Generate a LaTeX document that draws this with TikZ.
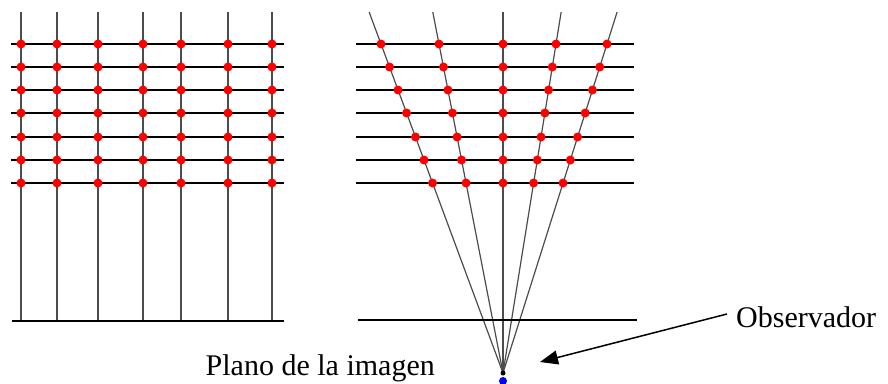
\documentclass[tikz,border=0pt]{standalone}
\usepackage{fontspec}
\setmainfont{Liberation Serif}
\usetikzlibrary{arrows.meta}
\begin{document}
\begin{tikzpicture}[x=1pt,y=-1pt,
  hline/.style={line width=2.4pt,black},
  vline/.style={line width=1.2pt,black!70},
  reddot/.style={circle,fill=red,inner sep=0pt,minimum size=9pt},
  lbl/.style={font=\fontsize{30}{36}\selectfont,inner sep=0pt},
  pointer/.style={line width=1.5pt,-{Triangle[length=18pt,width=14pt]}}]
\useasboundingbox (0,0) rectangle (888,383);
% ---------- left grid ----------
\foreach \x in {21,57,98,143,181,228,272}
  \draw[vline] (\x,12) -- (\x,321);
\foreach \y in {44,67,90,113,137,160,183}
  \draw[hline] (11,\y) -- (284,\y);
\draw[hline] (12,321) -- (284,321);
\foreach \x [count=\i] in {21,57,98,143,181,228,272}
  \foreach \y [count=\j] in {44,67,90,113,137,160,183}
    \node[reddot] (L-\i-\j) at (\x,\y) {};
% ---------- right (perspective) ----------
\coordinate (apex) at (503,373);
\foreach \x [count=\i] in {381,439,503,556,607}{
  \pgfmathsetmacro{\xt}{503+(\x-503)*(361/329)}
  \coordinate (top-\i) at (\xt,12);
  \draw[vline] (top-\i) -- (apex);
}
\foreach \y in {44,67,90,113,137,160,183}
  \draw[hline] (356,\y) -- (634,\y);
\draw[hline] (358,320) -- (637,320);
\foreach \x [count=\i] in {381,439,503,556,607}
  \foreach \y [count=\j] in {44,67,90,113,137,160,183}{
    \pgfmathsetmacro{\xp}{503+(\x-503)*((373-\y)/329)}
    \node[reddot] (R-\i-\j) at (\xp,\y) {};
  }
\node[circle,fill=blue,inner sep=0pt,minimum size=8pt] (eye) at (503,381) {};
\node[circle,fill=black,inner sep=0pt,minimum size=5pt] (apexdot) at (apex) {};
% ---------- labels ----------
\node[lbl,anchor=base west] (obs) at (736,327) {Observador};
\node[lbl,anchor=base east] (plano) at (435,375) {Plano de la imagen};
\coordinate (arrstart) at (727,314);
\coordinate (arrtip) at (540,362);
\draw[pointer] (arrstart) -- (arrtip);
\end{tikzpicture}
\end{document}
